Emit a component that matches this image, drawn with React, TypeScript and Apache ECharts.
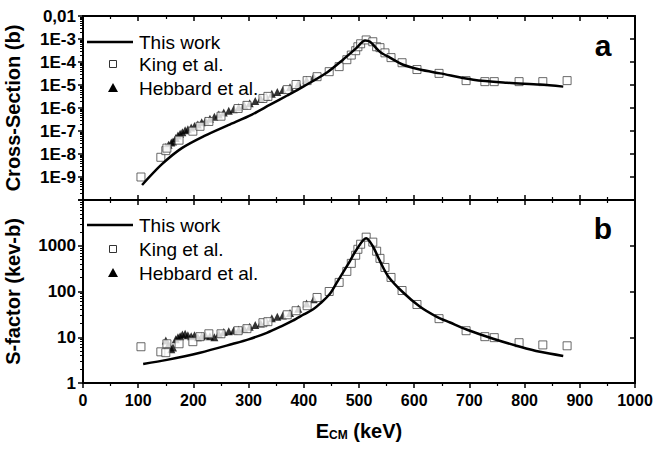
import React, { useEffect, useRef } from "react";
import * as echarts from "echarts";

const FONT = '"Liberation Sans", Arial, Helvetica, sans-serif';

// ---- King et al. (squares) ----
const kingE = [105, 141, 150, 152, 174, 199, 212, 228, 250, 281, 297, 326, 335, 370, 386, 406, 424, 446, 464, 478, 486, 494, 498, 503, 513, 525, 532, 538, 547, 558, 578, 605, 645, 694, 728, 745, 790, 833, 877];
const kingSigma = [1.0e-9, 7.2e-9, 1.4e-8, 1.8e-8, 4.0e-8, 9.8e-8, 1.6e-7, 2.6e-7, 4.4e-7, 9.5e-7, 1.3e-6, 2.6e-6, 3.2e-6, 6.3e-6, 1.05e-5, 1.55e-5, 2.3e-5, 3.8e-5, 6.3e-5, 1.26e-4, 2.0e-4, 3.1e-4, 4.6e-4, 6.2e-4, 9.1e-4, 7.6e-4, 4.6e-4, 4.2e-4, 2.5e-4, 1.55e-4, 9.3e-5, 4.7e-5, 3.2e-5, 1.55e-5, 1.4e-5, 1.4e-5, 1.4e-5, 1.4e-5, 1.55e-5];
const kingS = [6.2, 4.8, 4.6, 7.2, 7.2, 8, 10.3, 11.9, 11.9, 13.9, 15.4, 20.8, 21.9, 31, 38, 49, 74, 100, 158, 275, 412, 620, 836, 1080, 1540, 1200, 760, 530, 335, 203, 105, 52, 25.5, 13.9, 10.3, 9.8, 7.6, 6.8, 6.5];

// ---- Hebbard et al. (triangles) ----
const hebbardE = [150, 155, 160, 163, 168, 172, 176, 180, 185, 190, 196, 202, 208, 215, 222, 230, 238, 246, 255, 264, 273, 282, 292, 302, 312, 322, 332, 342, 352, 362, 375, 390, 405, 418];
const hebbardSigma = [2.0e-8, 2.5e-8, 3.2e-8, 3.5e-8, 5.0e-8, 6.3e-8, 7.6e-8, 8.9e-8, 1.07e-7, 1.2e-7, 1.41e-7, 1.66e-7, 1.9e-7, 2.4e-7, 2.8e-7, 3.4e-7, 4.2e-7, 5.2e-7, 6.3e-7, 7.6e-7, 8.9e-7, 1.07e-6, 1.32e-6, 1.62e-6, 2.0e-6, 2.5e-6, 3.1e-6, 4.2e-6, 5.0e-6, 6.0e-6, 7.9e-6, 1.12e-5, 1.66e-5, 2.3e-5];
const hebbardS = [8.5, 7, 5.5, 6, 9, 10, 10.5, 11.5, 12, 11, 10.5, 11, 10, 10.5, 11, 10.5, 10, 12, 13, 13.5, 14, 14.5, 15.5, 17, 18.5, 20, 22, 26, 28, 30, 34, 42, 55, 68];

// ---- This work (curve) ----
const curveTopE = [107, 143, 179, 221, 263, 306, 339, 370, 399, 442, 471, 496, 511, 520, 538, 556, 580, 610, 647, 707, 768, 828, 870];
const curveTopSigma = [4.5e-10, 3.6e-9, 1.8e-8, 6.3e-8, 1.8e-7, 5.2e-7, 1.4e-6, 3.5e-6, 8.5e-6, 3.5e-5, 1.26e-4, 4.2e-4, 8.7e-4, 7.6e-4, 2.75e-4, 1.55e-4, 7.6e-5, 4.7e-5, 3.2e-5, 1.7e-5, 1.26e-5, 1.05e-5, 8.5e-6];
const curveBotE = [109, 152, 212, 272, 300, 333, 360, 380, 400, 417, 430, 447, 460, 480, 496, 513, 525, 538, 553, 580, 610, 641, 665, 696, 743, 792, 828, 870];
const curveBotS = [2.6, 3.2, 4.6, 7.2, 9.0, 12.5, 17.5, 23, 31.5, 41, 55, 88, 158, 390, 840, 1450, 975, 460, 214, 95, 47, 28, 21, 14.6, 9.3, 6.2, 4.8, 3.9];

// ---- axes ----
const xMin = 0;
const xMax = 1000;
const xStep = 100;
const topDecades = [1e-10, 1e-9, 1e-8, 1e-7, 1e-6, 1e-5, 1e-4, 1e-3, 1e-2];
const botDecades = [1, 10, 100, 1000, 10000];

const minorOf = (decades: number[]) => {
  const out: number[] = [];
  for (let i = 0; i < decades.length - 1; i++) {
    for (let k = 2; k <= 9; k++) out.push(k * decades[i]);
  }
  return out;
};

const topLabel = (v: number) => {
  const e = Math.round(Math.log10(v));
  if (e === -2) return "0,01";
  if (e < -9) return "";
  return "1E" + e;
};
const botLabel = (v: number) => (v > 5000 ? "" : String(Math.round(v)));

const lineStyle = { color: "#000", width: 2 };
const labelStyle = { fontSize: 16, fontWeight: "bold", color: "#000", fontFamily: FONT };

function xAx(grid: number, position: string, inside: boolean, labels: boolean, extra: any = {}) {
  return {
    type: "value",
    gridIndex: grid,
    position,
    min: xMin,
    max: xMax,
    interval: xStep,
    axisLine: { show: true, onZero: false, lineStyle },
    axisTick: { show: true, inside, length: 5, lineStyle: { color: "#000", width: 1.5 } },
    minorTick: { show: true, splitNumber: 2, length: 3, lineStyle: { color: "#000", width: 1.2 } },
    axisLabel: labels ? { show: true, margin: 9, formatter: (v: number) => String(v), ...labelStyle } : { show: false },
    splitLine: { show: false },
    ...extra,
  };
}

function yMajor(grid: number, position: string, decades: number[], inside: boolean, fmt: any, extra: any = {}) {
  return {
    type: "log",
    logBase: 10,
    gridIndex: grid,
    position,
    min: decades[0],
    max: decades[decades.length - 1],
    interval: 1,
    axisLine: { show: true, onZero: false, lineStyle },
    axisTick: { show: true, inside, length: 5, customValues: decades, lineStyle: { color: "#000", width: 1.5 } },
    axisLabel: fmt ? { show: true, margin: 7, customValues: decades, formatter: fmt, ...labelStyle, fontSize: 17 } : { show: false },
    splitLine: { show: false },
    ...extra,
  };
}

function yMinor(grid: number, position: string, decades: number[], inside: boolean) {
  return {
    type: "log",
    logBase: 10,
    gridIndex: grid,
    position,
    min: decades[0],
    max: decades[decades.length - 1],
    axisLine: { show: false },
    axisTick: { show: true, inside, length: 3, customValues: minorOf(decades), lineStyle: { color: "#000", width: 1 } },
    axisLabel: { show: false },
    splitLine: { show: false },
  };
}

const nameStyle = { fontSize: 20, fontWeight: "bold", color: "#000", fontFamily: FONT };

function legendGraphics(yLine: number, ySq: number, yTri: number) {
  const txt = (y: number, t: string) => ({
    type: "text",
    x: 139,
    y,
    style: { text: t, fontSize: 19, fontFamily: FONT, fill: "#000", verticalAlign: "middle", align: "left" },
  });
  return [
    { type: "line", shape: { x1: 87, y1: yLine, x2: 133, y2: yLine }, style: { stroke: "#000", lineWidth: 2.5 } },
    { type: "rect", shape: { x: 109.5, y: ySq - 3.5, width: 7, height: 7 }, style: { fill: "#fff", stroke: "#333", lineWidth: 1 } },
    { type: "polygon", shape: { points: [[113, yTri - 5], [108, yTri + 4], [118, yTri + 4]] }, style: { fill: "#000" } },
    txt(yLine, "This work"),
    txt(ySq, "King et al."),
    txt(yTri, "Hebbard et al."),
  ];
}

const zip = (a: number[], b: number[]) => a.map((v, i) => [v, b[i]]);

export default function App() {
  const ref = useRef<HTMLDivElement>(null);
  useEffect(() => {
    if (!ref.current) return;
    const chart = echarts.init(ref.current, null, { renderer: "svg" });
    const option: any = {
      animation: false,
      backgroundColor: "#fff",
      grid: [
        { left: 83, top: 16, width: 552, height: 184, outerBoundsMode: "none", containLabel: false },
        { left: 83, top: 200, width: 552, height: 183, outerBoundsMode: "none", containLabel: false },
      ],
      xAxis: [
        xAx(0, "bottom", true, false),
        xAx(0, "top", true, false),
        xAx(1, "bottom", false, true, {
          name: "{e|E}{s|CM}{e| (keV)}",
          nameLocation: "middle",
          nameGap: 38,
          nameTextStyle: {
            rich: {
              e: { fontSize: 20, fontWeight: "bold", fontFamily: FONT, color: "#000", lineHeight: 20, verticalAlign: "top" },
              s: { fontSize: 12, fontWeight: "bold", fontFamily: FONT, color: "#000", lineHeight: 12, padding: [12, 0, 0, 0], verticalAlign: "bottom" },
            },
          },
        }),
        xAx(1, "top", true, false),
      ],
      yAxis: [
        yMajor(0, "left", topDecades, false, topLabel, {
          name: "Cross-Section (b)",
          nameLocation: "middle",
          nameGap: 60,
          nameTextStyle: nameStyle,
        }),
        yMinor(0, "left", topDecades, false),
        yMajor(0, "right", topDecades, true, null),
        yMinor(0, "right", topDecades, true),
        yMajor(1, "left", botDecades, false, botLabel, {
          name: "S-factor (kev-b)",
          nameLocation: "middle",
          nameGap: 60,
          nameTextStyle: nameStyle,
        }),
        yMinor(1, "left", botDecades, false),
        yMajor(1, "right", botDecades, true, null),
        yMinor(1, "right", botDecades, true),
      ],
      series: [
        {
          name: "Hebbard et al.", type: "scatter", xAxisIndex: 0, yAxisIndex: 0,
          symbol: "triangle", symbolSize: 8, itemStyle: { color: "#000" }, data: zip(hebbardE, hebbardSigma), z: 2,
        },
        {
          name: "King et al.", type: "scatter", xAxisIndex: 0, yAxisIndex: 0,
          symbol: "rect", symbolSize: 8, itemStyle: { color: "#fff", borderColor: "#444", borderWidth: 1 }, data: zip(kingE, kingSigma), z: 3,
        },
        {
          name: "This work", type: "line", xAxisIndex: 0, yAxisIndex: 0, showSymbol: false, smooth: 0.3,
          lineStyle: { color: "#000", width: 2.5 }, data: zip(curveTopE, curveTopSigma), z: 4,
        },
        {
          name: "Hebbard et al.", type: "scatter", xAxisIndex: 2, yAxisIndex: 4,
          symbol: "triangle", symbolSize: 8, itemStyle: { color: "#000" }, data: zip(hebbardE, hebbardS), z: 2,
        },
        {
          name: "King et al.", type: "scatter", xAxisIndex: 2, yAxisIndex: 4,
          symbol: "rect", symbolSize: 8, itemStyle: { color: "#fff", borderColor: "#444", borderWidth: 1 }, data: zip(kingE, kingS), z: 3,
        },
        {
          name: "This work", type: "line", xAxisIndex: 2, yAxisIndex: 4, showSymbol: false, smooth: 0.3,
          lineStyle: { color: "#000", width: 2.5 }, data: zip(curveBotE, curveBotS), z: 4,
        },
      ],
      graphic: [
        ...legendGraphics(42, 64, 88),
        ...legendGraphics(225, 249, 273),
        { type: "text", x: 603, y: 45, style: { text: "a", fontSize: 30, fontWeight: "bold", fontFamily: FONT, fill: "#000", align: "center", verticalAlign: "middle" } },
        { type: "text", x: 603, y: 228, style: { text: "b", fontSize: 30, fontWeight: "bold", fontFamily: FONT, fill: "#000", align: "center", verticalAlign: "middle" } },
      ],
    };
    chart.setOption(option);
    return () => chart.dispose();
  }, []);
  return <div ref={ref} style={{ position: "fixed", left: 0, top: 0, width: 655, height: 450 }} />;
}
